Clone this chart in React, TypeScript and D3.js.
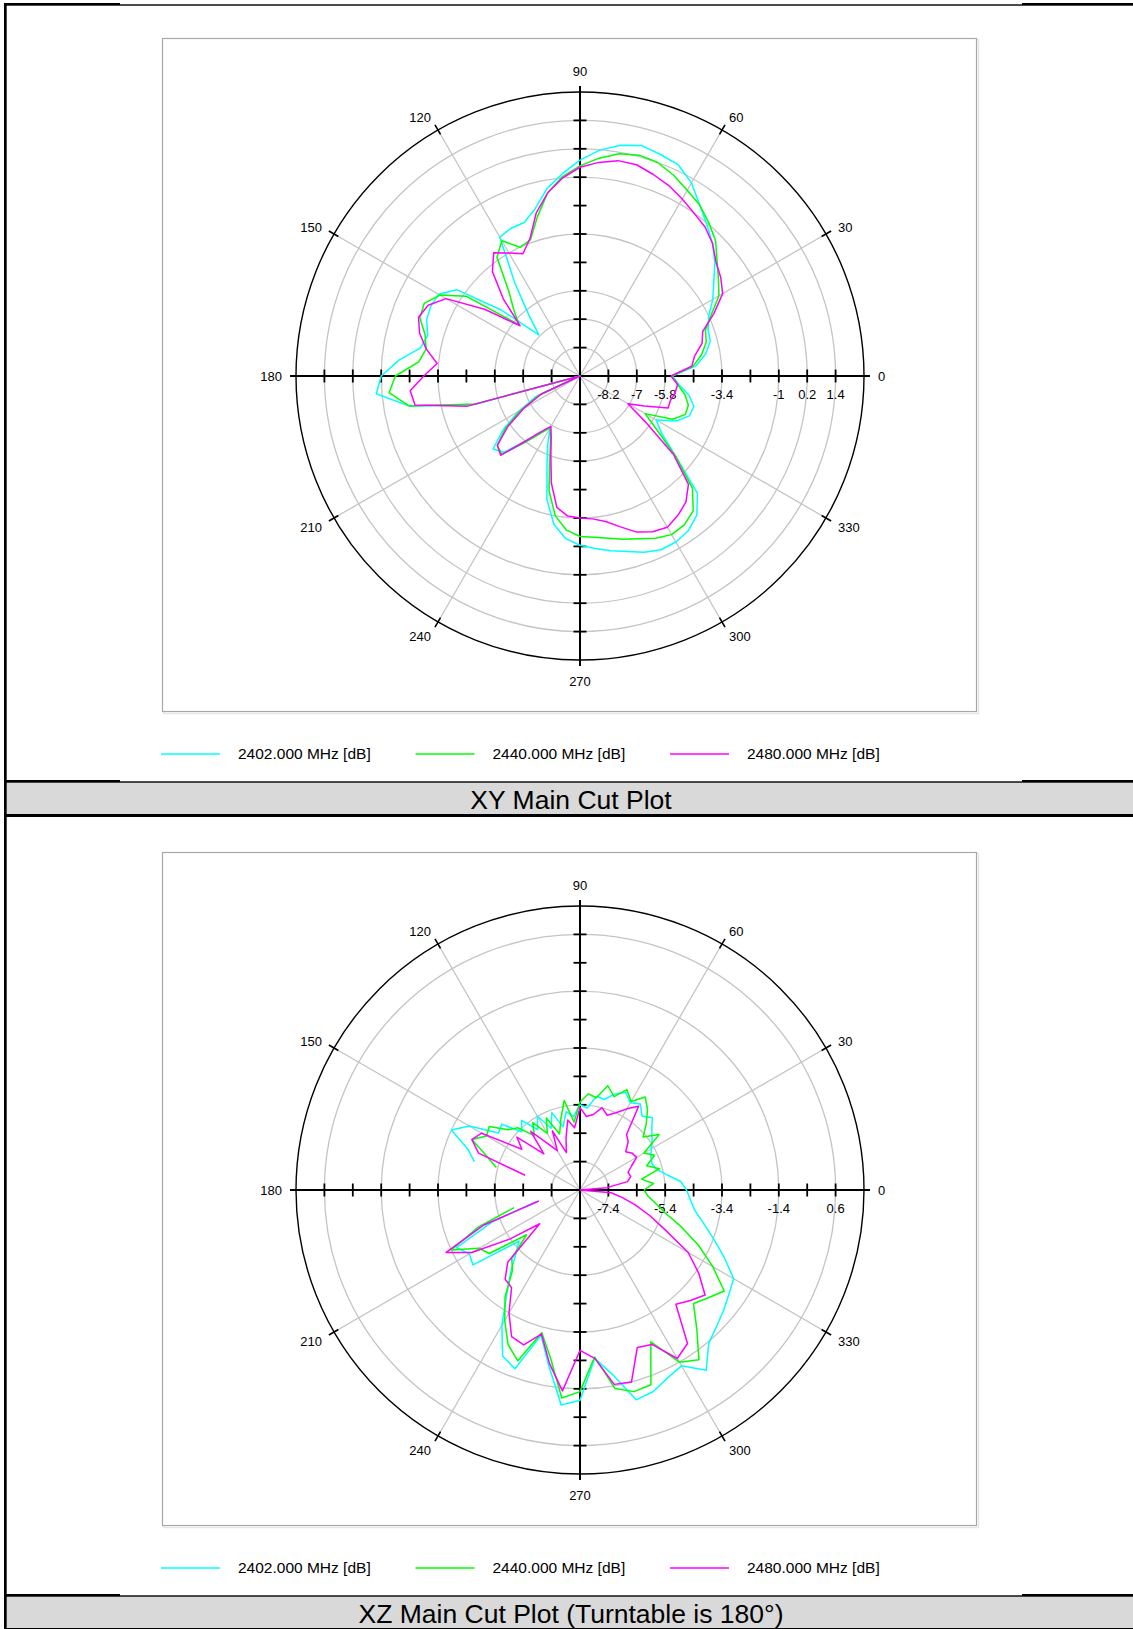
import React from 'react';
import * as d3 from 'd3';

// ---------- data ----------
const angles = [0,5,10,15,20,25,30,35,40,45,50,55,60,65,70,75,80,85,90,95,100,105,110,115,120,125,130,135,140,145,150,155,160,165,170,175,180,185,190,195,200,205,210,215,220,225,230,235,240,245,250,255,260,265,270,275,280,285,290,295,300,305,310,315,320,325,330,335,340,345,350,355];
const angleLabels = [0,30,60,90,120,150,180,210,240,270,300,330];
const seriesNames = ['2402.000 MHz [dB]', '2440.000 MHz [dB]', '2480.000 MHz [dB]'];
const seriesColors = ['#00ffff', '#00ff00', '#ff00ff'];

// XY main cut (dB)
const xy2402 = [-5.5,-4.48,-4.0,-3.7,-3.64,-3.4,-2.92,-2.5,-1.96,-1.48,-1.06,-0.58,0.02,0.44,0.56,0.68,0.5,0.18,-0.28,-0.82,-1.36,-2.08,-2.5,-2.51,-2.62,-4.6,-6.04,-6.94,-5.08,-3.04,-2.5,-2.44,-2.5,-2.74,-2.56,-1.72,-1.0,-0.76,-2.08,-4.72,-10.1,-7.36,-6.4,-5.44,-4.6,-4.84,-5.8,-6.52,-6.88,-6.16,-5.32,-4.0,-3.04,-2.5,-2.25,-2.08,-1.9,-1.72,-1.48,-1.3,-1.3,-1.42,-1.72,-2.38,-4.12,-5.2,-5.68,-4.9,-4.48,-4.42,-4.72,-5.2];
const xy2440 = [-5.5,-4.6,-4.18,-3.88,-3.76,-3.28,-2.62,-2.26,-1.84,-1.3,-0.94,-0.58,-0.34,-0.04,0.2,0.26,0.14,-0.16,-0.52,-0.94,-1.54,-2.44,-3.28,-3.4,-2.8,-3.28,-4.72,-5.44,-6.04,-3.52,-2.56,-2.14,-2.2,-2.62,-2.8,-2.56,-1.6,-1.3,-2.08,-4.84,-10.1,-7.48,-6.52,-5.56,-4.84,-4.72,-5.68,-6.4,-6.88,-6.46,-5.68,-4.36,-3.4,-2.86,-2.62,-2.56,-2.44,-2.26,-2.08,-1.84,-1.66,-1.72,-1.96,-2.68,-4.12,-5.44,-6.22,-5.08,-4.66,-4.66,-4.9,-5.26];
const xy2480 = [-5.56,-4.66,-4.48,-4.06,-3.88,-3.16,-2.44,-2.14,-1.9,-1.48,-1.18,-1.0,-0.76,-0.52,-0.34,-0.16,-0.16,-0.34,-0.58,-1.0,-1.54,-2.26,-3.22,-3.7,-3.4,-3.04,-3.64,-4.84,-6.1,-4.48,-2.86,-2.32,-2.14,-2.38,-2.8,-3.34,-2.8,-2.2,-2.32,-4.48,-10.1,-7.6,-6.64,-5.68,-4.84,-4.66,-5.8,-6.52,-6.94,-6.52,-5.8,-4.72,-3.76,-3.46,-3.4,-3.34,-3.16,-2.8,-2.38,-2.14,-2.02,-2.2,-2.44,-2.92,-4.24,-6.04,-7.06,-6.4,-5.44,-5.44,-5.32,-5.26];
const xyTicks = [-8.2,-7,-5.8,-3.4,-1,0.2,1.4];

// XZ main cut (dB), null = not measured
const xz2402 = [-4.65,-4.85,-5.3,-5.6,-5.7,-5.65,-5.5,-5.3,-5.1,-4.8,-5.0,-4.7,-4.85,-4.6,-4.8,-5.1,-5.05,-5.5,-5.4,-5.8,-5.6,-6.1,-5.5,-6.0,-5.4,-5.8,-5.2,-5.5,-4.8,-4.9,-3.9,-3.4,-4.2,-4.55,null,null,null,null,null,-6.8,-5.1,-3.6,-3.9,-3.8,-5.6,-5.2,-4.6,-3.9,-2.9,-1.95,-1.7,-3.1,-2.1,-0.8,-1.0,-2.45,-1.8,-0.75,-0.85,-1.1,-1.25,-0.65,-1.35,-1.6,-1.8,-2.0,-2.15,-2.8,-3.4,-3.9,-4.3,-4.5];
const xz2440 = [-6.15,-5.8,-6.2,-5.5,-5.9,-5.5,-5.8,-5.0,-5.5,-5.1,-4.7,-4.4,-4.8,-4.5,-4.9,-4.6,-5.1,-5.0,-5.3,-6.0,-5.2,-5.8,-6.3,-5.6,-6.1,-5.5,-5.9,-5.3,-5.1,-4.5,-4.6,-4.2,-4.9,-5.35,null,null,null,null,null,-6.0,-4.6,-3.4,-4.3,-4.5,-5.95,-5.0,-4.7,-3.8,-3.1,-2.4,-2.0,-3.2,-2.4,-1.05,-1.3,-2.5,-1.3,-1.05,-1.1,-2.5,-1.4,-1.1,-2.0,-2.75,-2.5,-2.2,-3.0,-3.8,-4.6,-5.3,-5.7,-6.0];
const xz2480 = [-9.0,-7.45,-6.7,-6.55,-6.6,-6.4,-6.1,-6.15,-6.3,-6.0,-5.85,-4.8,-5.1,-5.4,-5.6,-5.4,-5.7,-5.8,-5.5,-6.2,-5.9,-6.5,-7.0,-6.1,-6.8,-6.4,-5.7,-6.6,-5.5,-5.9,-4.4,-4.2,-4.6,-6.4,null,null,null,null,null,-6.9,-4.8,-3.2,-4.0,-5.4,-6.55,-4.8,-4.3,-4.2,-3.4,-2.7,-2.6,-3.15,-2.2,-1.3,-2.75,-2.45,-1.45,-1.4,-2.5,-2.4,-1.55,-1.8,-3.15,-2.9,-2.65,-3.3,-4.0,-5.1,-5.8,-6.4,-6.9,-7.3];
const xzTicks = [-7.4,-5.4,-3.4,-1.4,0.6];

const panels = [
  { title: 'XY Main Cut Plot', min: -9.4, max: 2.6, ticks: xyTicks, series: [xy2402, xy2440, xy2480] },
  { title: 'XZ Main Cut Plot (Turntable is 180°)', min: -8.4, max: 1.6, ticks: xzTicks, series: [xz2402, xz2440, xz2480] },
];

// ---------- layout ----------
const W = 1133, H = 1629;
const PANEL_H = 814;
const CX = 580, CY = 376, R = 284;
const FONT = '"Liberation Sans", Arial, Helvetica, sans-serif';
const rad = (d: number) => (d * Math.PI) / 180;

function FrameLine({ y }: { y: number }) {
  return (
    <g>
      <rect x={4} y={y} width={116} height={2.7} fill="#000" />
      <rect x={120} y={y + 1.3} width={902} height={1.4} fill="#000" />
      <rect x={1022} y={y} width={W - 1022} height={2.7} fill="#000" />
    </g>
  );
}

function Panel({ oy, p }: { oy: number; p: any }) {
  const cx = CX, cy = oy + CY;
  const r = d3.scaleLinear().domain([p.min, p.max]).range([0, R]).clamp(true);
  const step = (p.max - p.min) / 10;
  const unitVals = d3.range(1, 10).map((i) => p.min + i * step);
  const px = (a: number, v: number) => cx + r(v) * Math.cos(rad(a));
  const py = (a: number, v: number) => cy - r(v) * Math.sin(rad(a));
  type Pt = { a: number; v: number | null };
  const line = d3
    .line<Pt>()
    .defined((d) => d.v !== null)
    .x((d) => px(d.a, d.v as number))
    .y((d) => py(d.a, d.v as number));

  const legendX = [161, 415.5, 670];

  return (
    <g>
      {/* plot box */}
      <rect x={163.5} y={oy + 39.5} width={815} height={674} fill="none" stroke="#e6e6e6" strokeWidth={1.5} />
      <rect x={162.5} y={oy + 38.5} width={814} height={673} fill="#fff" stroke="#a8a8a8" strokeWidth={1.2} />
      {/* grid circles */}
      {p.ticks.map((t: number, i: number) => (
        <circle key={'g' + i} cx={cx} cy={cy} r={r(t)} fill="none" stroke="#c4c4c4" strokeWidth={1.3} />
      ))}
      {/* spokes */}
      {angleLabels.map((a) => (
        <line key={'s' + a} x1={cx} y1={cy} x2={cx + R * Math.cos(rad(a))} y2={cy - R * Math.sin(rad(a))} stroke="#c4c4c4" strokeWidth={1.3} />
      ))}
      {/* outer circle */}
      <circle cx={cx} cy={cy} r={R} fill="none" stroke="#000" strokeWidth={1.4} />
      {/* angle ticks on circle */}
      {angleLabels.filter((a) => a % 90 !== 0).map((a) => (
        <line key={'at' + a} x1={cx + (R - 5) * Math.cos(rad(a))} y1={cy - (R - 5) * Math.sin(rad(a))} x2={cx + (R + 6) * Math.cos(rad(a))} y2={cy - (R + 6) * Math.sin(rad(a))} stroke="#000" strokeWidth={1.6} />
      ))}
      {/* axes */}
      <line x1={cx - R - 6} y1={cy} x2={cx + R + 6} y2={cy} stroke="#000" strokeWidth={2} />
      <line x1={cx} y1={cy - R - 6} x2={cx} y2={cy + R + 6} stroke="#000" strokeWidth={2} />
      {unitVals.map((v, i) => {
        const d = r(v);
        return (
          <g key={'t' + i}>
            <line x1={cx + d} y1={cy - 6.5} x2={cx + d} y2={cy + 6.5} stroke="#000" strokeWidth={1.8} />
            <line x1={cx - d} y1={cy - 6.5} x2={cx - d} y2={cy + 6.5} stroke="#000" strokeWidth={1.8} />
            <line x1={cx - 6.5} y1={cy - d} x2={cx + 6.5} y2={cy - d} stroke="#000" strokeWidth={1.8} />
            <line x1={cx - 6.5} y1={cy + d} x2={cx + 6.5} y2={cy + d} stroke="#000" strokeWidth={1.8} />
          </g>
        );
      })}
      {/* radial labels */}
      {p.ticks.map((t: number, i: number) => (
        <text key={'rl' + i} x={cx + r(t)} y={cy + 18} dy="0.35em" textAnchor="middle" fontFamily={FONT} fontSize={13} fill="#000">
          {String(t)}
        </text>
      ))}
      {/* angle labels */}
      {angleLabels.map((a) => {
        const s = String(a);
        const w = s.length * 7.2;
        const c = Math.cos(rad(a)), sn = Math.sin(rad(a));
        const ox = Math.abs(c) > 0.1 ? Math.sign(c) * w / 2 : 0;
        const oyy = Math.abs(sn) > 0.99 ? Math.sign(sn) * 7 : sn < -0.1 ? -2.5 : 0;
        return (
          <text key={'al' + a} x={cx + 298 * c + ox} y={cy - 298 * sn - oyy} dy="0.35em" textAnchor="middle" fontFamily={FONT} fontSize={13} fill="#000">
            {s}
          </text>
        );
      })}
      {/* series */}
      {p.series.map((vals: (number | null)[], si: number) => {
        const pts: Pt[] = angles.map((a, i) => ({ a, v: vals[i] }));
        pts.push({ a: 360, v: vals[0] });
        return <path key={'ser' + si} d={line(pts) || ''} fill="none" stroke={seriesColors[si]} strokeWidth={1.5} strokeLinejoin="round" />;
      })}
      {/* legend */}
      {seriesNames.map((n, i) => (
        <g key={'lg' + i}>
          <line x1={legendX[i]} y1={oy + 754} x2={legendX[i] + 59} y2={oy + 754} stroke={seriesColors[i]} strokeWidth={1.5} />
          <text x={legendX[i] + 77} y={oy + 754} dy="0.35em" fontFamily={FONT} fontSize={15.5} fill="#000">
            {n}
          </text>
        </g>
      ))}
      {/* title band */}
      <rect x={4} y={oy + 782} width={W - 4} height={33} fill="#d9d9d9" />
      <FrameLine y={oy + 780} />
      <rect x={4} y={oy + 814} width={W - 4} height={3} fill="#000" />
      <text x={571} y={oy + 799.5} dy="0.35em" textAnchor="middle" fontFamily={FONT} fontSize={26.5} fill="#000">
        {p.title}
      </text>
    </g>
  );
}

export default function App() {
  return (
    <div>
      <style>{'body{margin:0;}'}</style>
      <svg width={W} height={H} style={{ display: 'block', background: '#fff' }}>
        <rect x={0} y={0} width={W} height={H} fill="#fff" />
        {panels.map((p, i) => (
          <Panel key={i} oy={i * PANEL_H} p={p} />
        ))}
        <FrameLine y={3} />
        <rect x={4} y={3} width={2.7} height={H - 3} fill="#000" />
      </svg>
    </div>
  );
}
